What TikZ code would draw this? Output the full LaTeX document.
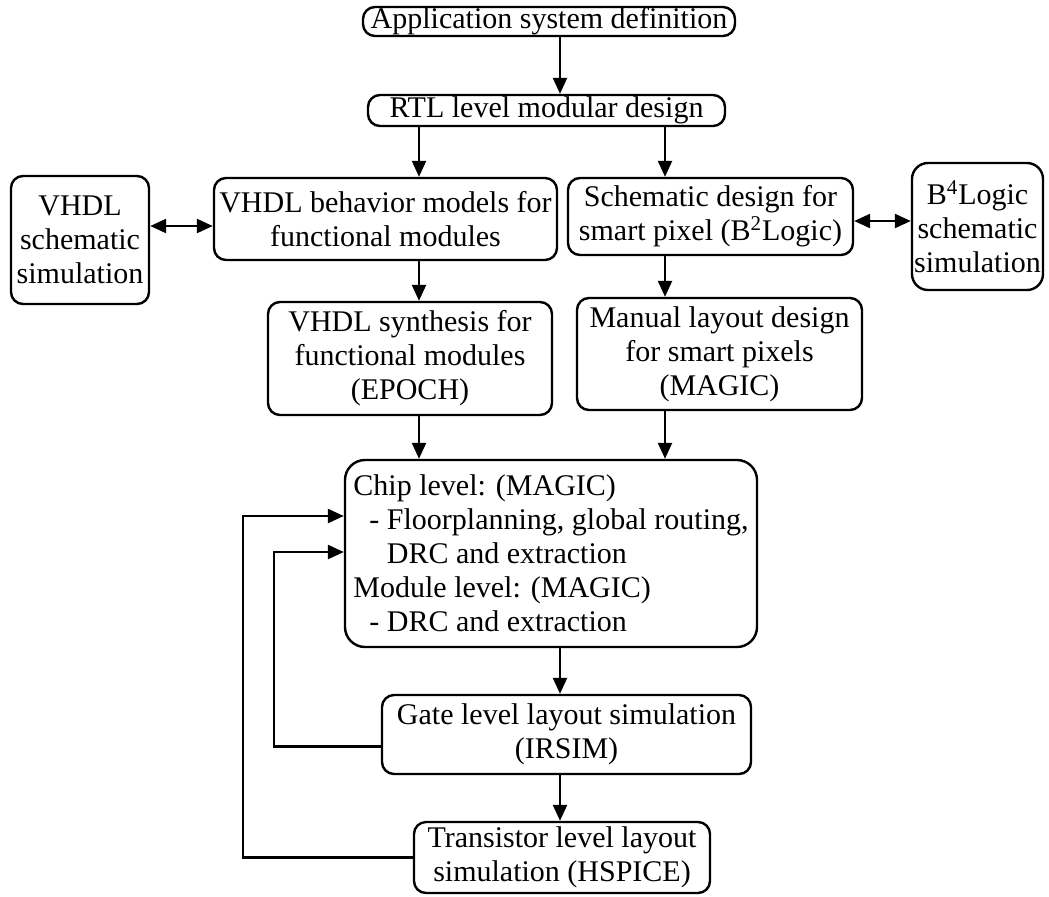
\documentclass[tikz,border=0pt]{standalone}
\usepackage{fontspec}
\setmainfont{Liberation Serif}
\usetikzlibrary{arrows.meta}

\begin{document}
\begin{tikzpicture}[
    x=0.5pt, y=-0.5pt,
    >={Triangle[length=8pt, width=7pt]},
    stage/.style={draw, line width=1.2pt, rounded corners=6pt, align=center,
        inner sep=0pt, font=\fontsize{15}{17}\selectfont},
    flow/.style={->, line width=1.2pt},
    link/.style={<->, line width=1.2pt},
]
\useasboundingbox (0,0) rectangle (1049,896);

% ---- columns and rows the connectors run along ----
\coordinate (spine)    at (560,0);
\coordinate (leftcol)  at (419,0);
\coordinate (rightcol) at (665,0);
\coordinate (leftrow)  at (0,226);
\coordinate (rightrow) at (0,221);
\coordinate (outer)    at (243,516);
\coordinate (inner)    at (274,552);

% ---- top of the flow ----
\node[stage, minimum width=186pt, minimum height=14.5pt] (app) at (549,21.5)
    {Application system definition};
\node[stage, minimum width=178.5pt, minimum height=15.5pt] (rtl) at (546.5,110.5)
    {RTL level modular design};

% ---- VHDL branch ----
\node[stage, minimum width=171.5pt, minimum height=41pt] (beh) at (385.5,219)
    {VHDL behavior models for\\functional modules};
\node[stage, minimum width=69pt, minimum height=64pt] (vsim) at (80,240)
    {VHDL\\schematic\\simulation};
\node[stage, minimum width=142pt, minimum height=56.5pt] (syn) at (410,358.5)
    {VHDL synthesis for\\functional modules\\(EPOCH)};

% ---- smart pixel branch ----
\node[stage, minimum width=142.5pt, minimum height=38.5pt] (schem) at (710.5,216.5)
    {Schematic design for\\smart pixel (B\textsuperscript{2}Logic)};
\node[stage, minimum width=65.5pt, minimum height=63.5pt, rounded corners=8pt]
    (bsim) at (977.5,226.5)
    {B\textsuperscript{4}Logic\\schematic\\simulation};
\node[stage, minimum width=142.5pt, minimum height=56pt] (man) at (719.5,354)
    {Manual layout design\\for smart pixels\\(MAGIC)};

% ---- layout and simulation ----
\node[stage, align=left, rounded corners=10pt, minimum width=206pt,
    minimum height=93.5pt] (chip) at (551,553.5)
    {Chip level: (MAGIC)\\
     \hspace*{8pt}- Floorplanning, global routing,\\
     \hspace*{8pt}\phantom{- }DRC and extraction\\
     Module level: (MAGIC)\\
     \hspace*{8pt}- DRC and extraction};
\node[stage, minimum width=184.5pt, minimum height=39.5pt] (gate) at (566.5,734.5)
    {Gate level layout simulation\\(IRSIM)};
\node[stage, minimum width=148pt, minimum height=35.5pt] (trans) at (562,857.5)
    {Transistor level layout\\simulation (HSPICE)};

% ---- downward flow ----
\draw[flow] (app.south -| spine) -- (rtl.north -| spine);
\draw[flow] (rtl.south -| leftcol) -- (beh.north -| leftcol);
\draw[flow] (rtl.south -| rightcol) -- (schem.north -| rightcol);
\draw[flow] (beh.south -| leftcol) -- (syn.north -| leftcol);
\draw[flow] (schem.south -| rightcol) -- (man.north -| rightcol);
\draw[flow] (syn.south -| leftcol) -- (chip.north -| leftcol);
\draw[flow] (man.south -| rightcol) -- (chip.north -| rightcol);
\draw[flow] (chip.south -| spine) -- (gate.north -| spine);
\draw[flow] (gate.south -| spine) -- (trans.north -| spine);

% ---- simulation loops on the sides ----
\draw[link] (vsim.east |- leftrow) -- (beh.west |- leftrow);
\draw[link] (schem.east |- rightrow) -- (bsim.west |- rightrow);

% ---- feedback into chip level ----
\draw[flow] (trans.west) -| (outer) -- (chip.west |- outer);
\draw[flow] ([yshift=-6pt]gate.west) -| (inner) -- (chip.west |- inner);

\end{tikzpicture}
\end{document}
